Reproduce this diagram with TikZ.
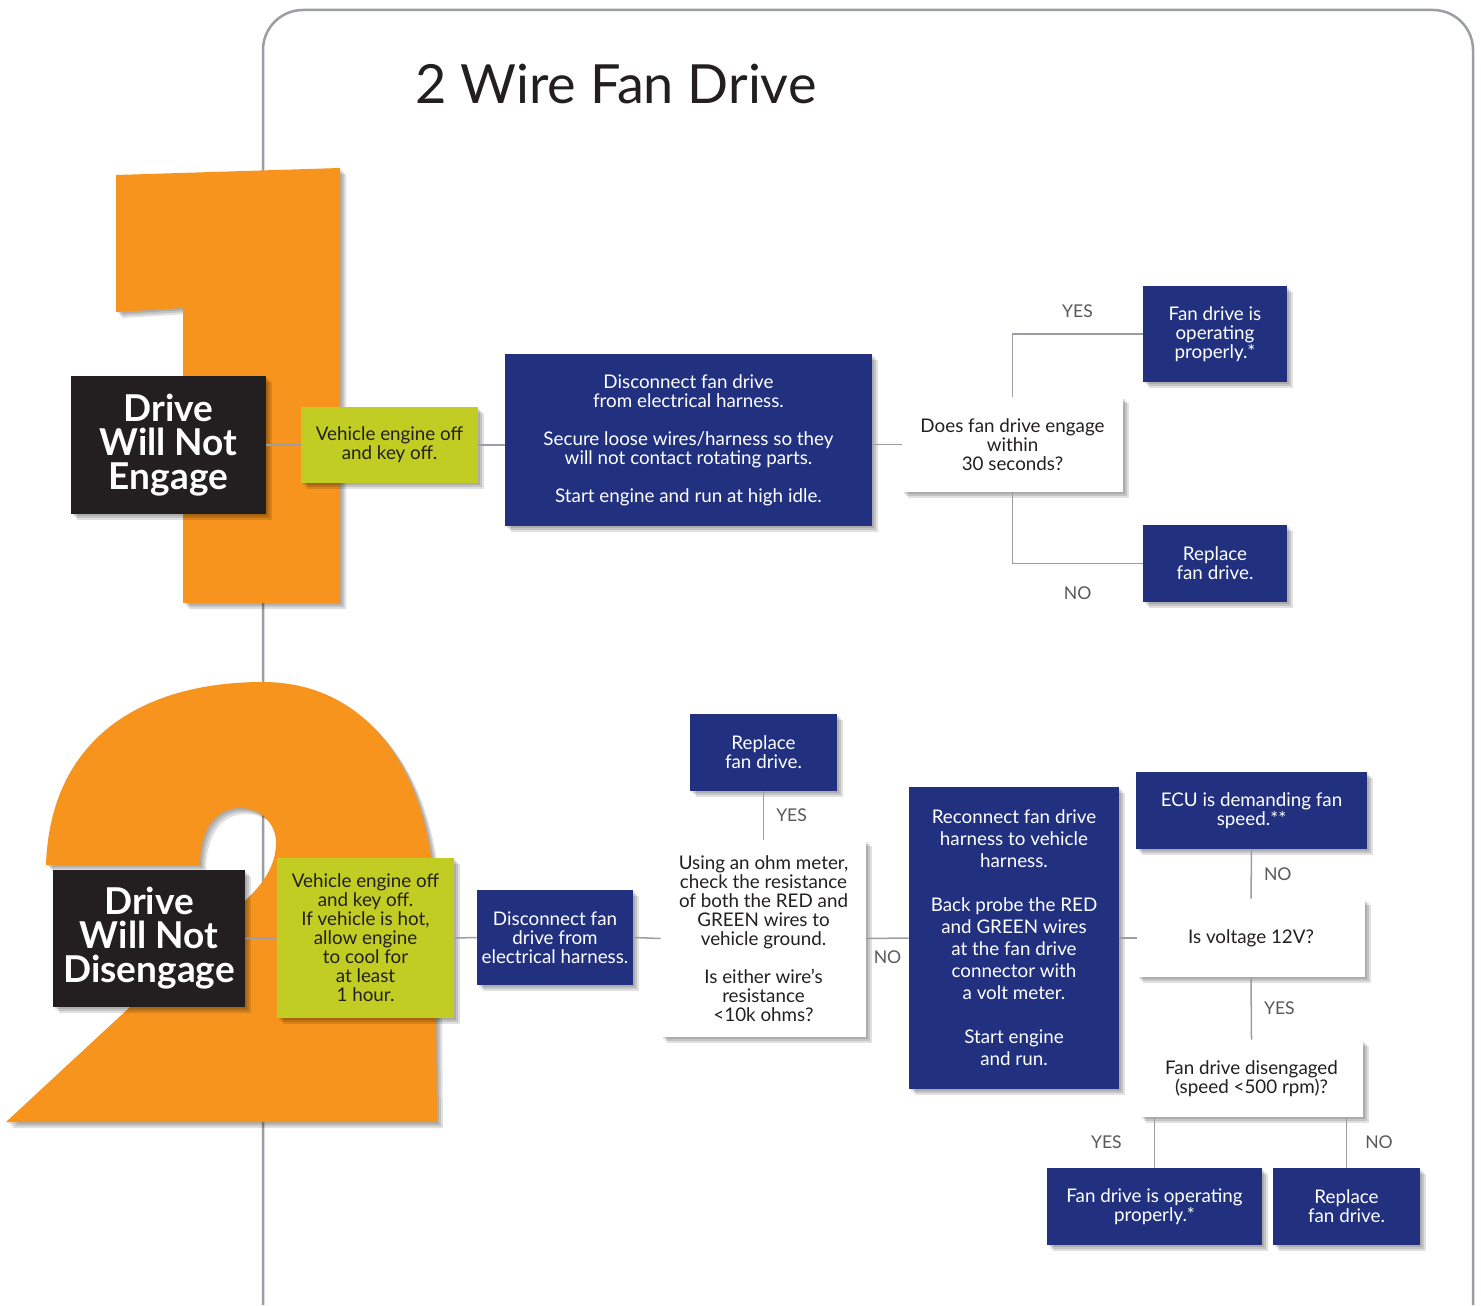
\documentclass[tikz,border=0pt]{standalone}
\usepackage{fontspec}
\setmainfont{Lato}
\usetikzlibrary{shadows}
\definecolor{orng}{HTML}{F7941D}
\definecolor{lime}{HTML}{C2CD23}
\definecolor{navy}{HTML}{21317F}
\definecolor{ink}{HTML}{231F20}
\definecolor{rule}{HTML}{9A9DA1}
\definecolor{labgray}{HTML}{58595B}
\tikzset{
  % box from its corners, in pixel units
  spot/.style n args={4}{at={({(#1+#3)/2},{(#2+#4)/2})},
    minimum width={(#3-#1)*0.5pt}, minimum height={(#4-#2)*0.5pt}},
  dropsh/.style={
    drop shadow={shadow xshift=1pt, shadow yshift=-1pt, fill=black, opacity=0.12},
    drop shadow={shadow xshift=2pt, shadow yshift=-2pt, fill=black, opacity=0.12},
    drop shadow={shadow xshift=3pt, shadow yshift=-3pt, fill=black, opacity=0.12}},
  box/.style={inner sep=0pt, align=center, font=\fontsize{9.4}{9.5}\selectfont, dropsh},
  bluebox/.style={box, fill=navy, text=white},
  qbox/.style={box, fill=white, text=ink},
  limebox/.style={box, fill=lime, text=ink},
  headbox/.style={box, fill=ink, text=white, font=\bfseries\fontsize{18.5}{17}\selectfont},
  link/.style={draw=rule, line width=0.75pt},
  panel/.style={draw=rule, line width=1.25pt, rounded corners=20pt},
  digit/.style={fill=orng, dropsh},
  lbl/.style={text=labgray, font=\fontsize{8.8}{9.5}\selectfont, inner sep=3pt},
}
\begin{document}
\begin{tikzpicture}[x=0.5pt, y=-0.5pt]
  \fill[white] (0,0) rectangle (1481,1305);
  \useasboundingbox (0,0) rectangle (1481,1305);

  % frame and title
  \draw[panel] (263,1305) -- (263,10) -- (1473,10) -- (1473,1305);
  \node (title) at (616,84) [font=\fontsize{27}{30}\selectfont, text=ink] {2 Wire Fan Drive};

  % big numbers
  \fill[digit] (116,175) -- (340,168) -- (340,603) -- (183,603) -- (183,308) -- (116,312) -- cycle;
  \fill[digit] (6,1122) -- (437,1122) -- (435,900)
    .. controls (430,760) and (360,682) .. (263,682)
    .. controls (140,682) and (50,740) .. (46,865) -- (200,865)
    .. controls (200,830) and (215,808) .. (240,808)
    .. controls (262,808) and (277,825) .. (276,845)
    .. controls (275,870) and (258,890) .. (240,905) -- cycle;

  % 1: will not engage
  \node (blk1) [headbox, spot={71}{376}{266}{514}] {Drive\\Will Not\\Engage};
  \node (grn1) [limebox, spot={301}{407}{478}{483}] {Vehicle engine off\\and key off.};
  \node (a1) [bluebox, spot={505}{354}{872}{526}] {Disconnect fan drive\\from electrical harness.\\[9.5pt]Secure loose wires/harness so they\\will not contact rotating parts.\\[9.5pt]Start engine and run at high idle.};
  \node (q1) [qbox, spot={902}{397}{1123}{492}] {Does fan drive engage\\within\\30 seconds?};
  \node (y1) [bluebox, spot={1143}{286}{1287}{382}] {Fan drive is\\operating\\properly.*};
  \node (n1) [bluebox, spot={1143}{525}{1287}{602}] {Replace\\fan drive.};

  \draw[link] (blk1.east) -- (grn1.west);
  \draw[link] (grn1.east) -- (a1.west |- grn1.east);
  \draw[link] (a1.east |- q1.west) -- (q1.west);
  \draw[link] (q1.north) |- node[lbl, pos=0.75, above=5pt] (yes1) {YES} (y1.west);
  \draw[link] (q1.south) |- node[lbl, pos=0.75, below=8pt] (no1) {NO} (n1.west);

  % 2: will not disengage
  \node (blk2) [headbox, spot={53}{870}{245}{1007}] {Drive\\Will Not\\Disengage};
  \node (grn2) [limebox, spot={277}{858}{454}{1018}] {Vehicle engine off\\and key off.\\If vehicle is hot,\\allow engine\\to cool for\\at least\\1 hour.};
  \node (b1) [bluebox, spot={477}{890}{633}{985}] {Disconnect fan\\drive from\\electrical harness.};
  \node (q2) [qbox, spot={661}{840}{866}{1037}] {Using an ohm meter,\\check the resistance\\of both the RED and\\GREEN wires to\\vehicle ground.\\[9.5pt]Is either wire’s\\resistance\\<10k ohms?};
  \node (r2) [bluebox, spot={690}{714}{837}{791}] {Replace\\fan drive.};
  \node (b2) [bluebox, spot={909}{787}{1119}{1089}, font=\fontsize{9.4}{11}\selectfont] {Reconnect fan drive\\harness to vehicle\\harness.\\[11pt]Back probe the RED\\and GREEN wires\\at the fan drive\\connector with\\a volt meter.\\[11pt]Start engine\\and run.};
  \node (q3) [qbox, spot={1137}{899}{1365}{977}] {Is voltage 12V?};
  \node (ecu) [bluebox, spot={1136}{772}{1367}{849}] {ECU is demanding fan\\speed.**};
  \node (q4) [qbox, spot={1140}{1040}{1363}{1117}] {Fan drive disengaged\\(speed <500 rpm)?};
  \node (ok) [bluebox, spot={1047}{1168}{1262}{1245}] {Fan drive is operating\\properly.*};
  \node (rf) [bluebox, spot={1273}{1168}{1420}{1245}] {Replace\\fan drive.};

  \draw[link] (blk2.east) -- (grn2.west);
  \draw[link] (grn2.east) -- (b1.west);
  \draw[link] (b1.east) -- (q2.west);
  \draw[link] (q2.north) -- node[lbl, right=3pt] (yes2) {YES} (r2.south);
  \draw[link] (q2.east) -- node[lbl, below=3pt] (no2) {NO} (b2.west);
  \draw[link] (b2.east) -- (q3.west);
  \draw[link] (q3.north) -- node[lbl, right=3pt] (no3) {NO} (ecu.south);
  \draw[link] (q3.south) -- node[lbl, right=3pt] (yes3) {YES} (q4.north);
  \draw[link] (ok.north) -- node[lbl, left=13pt] (yes4) {YES} (ok.north |- q4.south);
  \draw[link] (rf.north) -- node[lbl, right=6pt] (no4) {NO} (rf.north |- q4.south);
\end{tikzpicture}
\end{document}
